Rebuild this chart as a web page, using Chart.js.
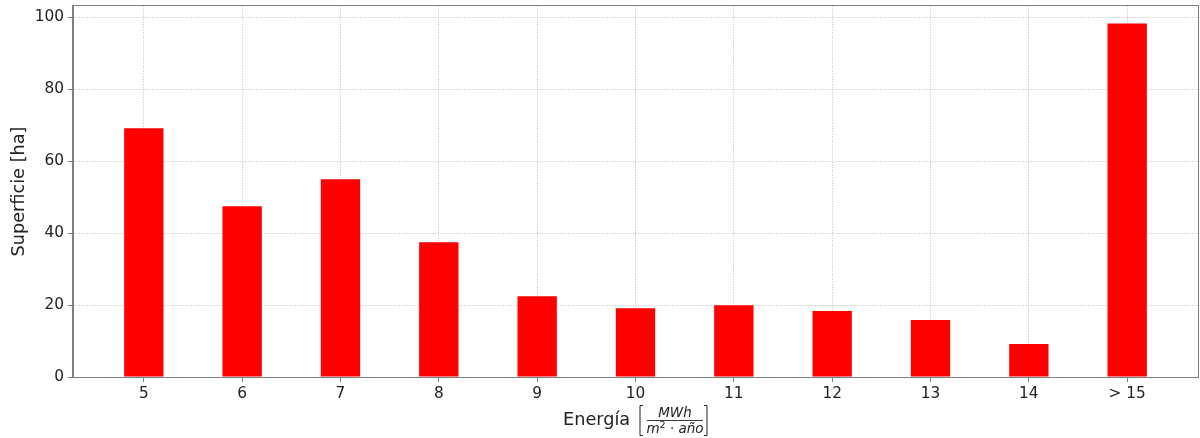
<!DOCTYPE html>
<html>
<head>
<meta charset="utf-8">
<script src="https://cdn.jsdelivr.net/npm/chart.js@4.4.1/dist/chart.umd.min.js"></script>
<style>
  html, body { margin: 0; padding: 0; background: #ffffff; }
  #wrap { width: 1200px; height: 438px; }
</style>
</head>
<body>
<div id="wrap"><canvas id="chart" width="1200" height="438"></canvas></div>
<script>
// Energy classes (MWh per m² and year) and surface per class, in hectares
const categories = ['5', '6', '7', '8', '9', '10', '11', '12', '13', '14', '> 15'];
const superficie = [69.1, 47.4, 54.9, 37.4, 22.4, 19.1, 19.9, 18.3, 15.8, 9.2, 98.2];
const yTicks = [0, 20, 40, 60, 80, 100];

const FONT = 'DejaVu Sans';
const TEXT = '#222222';
const SPINE = '#808080';
const GRID = '#b0b0b0';

// Frame around the plotting area plus the x-axis title with its fraction
const framePlugin = {
  id: 'frameAndTitle',
  afterDraw(chart) {
    const { ctx, chartArea: a } = chart;
    ctx.save();
    ctx.strokeStyle = SPINE;
    ctx.lineWidth = 1;
    ctx.setLineDash([]);
    ctx.strokeRect(Math.round(a.left) - 0.5, Math.round(a.top) - 0.5,
                   Math.round(a.right - a.left) + 1, Math.round(a.bottom - a.top) + 1);

    // "Energía [MWh / (m²·año)]"
    ctx.fillStyle = TEXT;
    ctx.strokeStyle = TEXT;
    ctx.textBaseline = 'alphabetic';
    ctx.textAlign = 'left';
    ctx.font = '17.7px "' + FONT + '"';
    ctx.fillText('Energía', 563, 425);

    // brackets
    ctx.lineWidth = 1;
    const bTop = 405.5, bBot = 435.5;
    ctx.beginPath();
    ctx.moveTo(643, bTop); ctx.lineTo(640, bTop); ctx.lineTo(640, bBot); ctx.lineTo(643, bBot);
    ctx.moveTo(704, bTop); ctx.lineTo(707, bTop); ctx.lineTo(707, bBot); ctx.lineTo(704, bBot);
    ctx.stroke();

    const cx = 675;
    // numerator
    ctx.font = 'italic 13.5px "' + FONT + '"';
    ctx.textAlign = 'center';
    ctx.fillText('MWh', cx, 416.5);

    // fraction bar
    ctx.lineWidth = 0.9;
    ctx.beginPath();
    ctx.moveTo(647, 420.5); ctx.lineTo(703, 420.5);
    ctx.stroke();

    // denominator: m² · año
    ctx.textAlign = 'left';
    const itFont = 'italic 13.5px "' + FONT + '"';
    const supFont = '9.5px "' + FONT + '"';
    const upFont = '13.5px "' + FONT + '"';
    ctx.font = itFont; const wM = ctx.measureText('m').width;
    ctx.font = supFont; const w2 = ctx.measureText('2').width;
    ctx.font = upFont; const wDot = ctx.measureText(' · ').width;
    ctx.font = itFont; const wA = ctx.measureText('año').width;
    let x = cx - (wM + w2 + wDot + wA) / 2;
    const base = 433;
    ctx.font = itFont; ctx.fillText('m', x, base); x += wM;
    ctx.font = supFont; ctx.fillText('2', x, base - 5.5); x += w2;
    ctx.font = upFont; ctx.fillText(' · ', x, base); x += wDot;
    ctx.font = itFont; ctx.fillText('año', x, base);
    ctx.restore();
  }
};

new Chart(document.getElementById('chart'), {
  type: 'bar',
  data: {
    datasets: [{
      data: superficie.map((v, i) => ({ x: i, y: v })),
      backgroundColor: '#ff0000',
      borderWidth: 0,
      barPercentage: 0.4,
      categoryPercentage: 1.0
    }]
  },
  options: {
    responsive: false,
    maintainAspectRatio: false,
    animation: false,
    layout: { padding: { top: 6, right: 2, left: 0, bottom: 0 } },
    plugins: {
      legend: { display: false },
      tooltip: { enabled: false }
    },
    scales: {
      x: {
        type: 'linear',
        offset: false,
        min: -0.72,
        max: categories.length - 1 + 0.72,
        z: 1,
        afterBuildTicks: (scale) => { scale.ticks = categories.map((_, i) => ({ value: i })); },
        afterFit: (scale) => {
          scale.height = 61;
          scale.paddingLeft = 0; scale.paddingRight = 0;
        },
        ticks: {
          autoSkip: false,
          maxRotation: 0,
          padding: 3,
          color: TEXT,
          font: { family: FONT, size: 15.3 },
          callback: (value) => categories[Math.round(value)]
        },
        grid: {
          offset: false,
          color: GRID,
          lineWidth: 0.8,
          tickLength: 5,
          tickColor: SPINE,
          tickWidth: 1,
          tickBorderDash: [1, 0]
        },
        border: { display: true, color: SPINE, width: 1, dash: [1, 1.6] }
      },
      y: {
        min: 0,
        max: 103.06,
        z: 1,
        afterBuildTicks: (scale) => { scale.ticks = yTicks.map(v => ({ value: v })); },
        afterFit: (scale) => {
          scale.width = 73;
          scale.paddingTop = 0; scale.paddingBottom = 0;
        },
        ticks: {
          padding: 4,
          color: TEXT,
          font: { family: FONT, size: 15.3 }
        },
        grid: {
          color: GRID,
          lineWidth: 0.8,
          tickLength: 5,
          tickColor: SPINE,
          tickWidth: 1,
          tickBorderDash: [1, 0]
        },
        border: { display: true, color: SPINE, width: 1, dash: [1, 1.6] },
        title: {
          display: true,
          text: 'Superficie [ha]',
          color: TEXT,
          font: { family: FONT, size: 17.7 },
          padding: { top: 9, bottom: 0 }
        }
      }
    }
  },
  plugins: [framePlugin]
});
</script>
</body>
</html>
